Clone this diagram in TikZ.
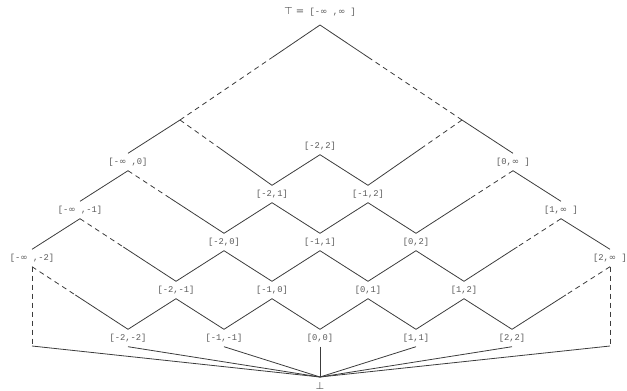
\documentclass[tikz,border=0pt]{standalone}
\usepackage{fontspec}
\setmonofont{Liberation Mono}
\newfontfamily\symfont{DejaVu Sans}
\usetikzlibrary{calc}
\definecolor{lc}{RGB}{60,60,60}
\definecolor{tc}{RGB}{90,90,90}
\newcommand\infy{{\symfont ∞}}
\newcommand\dshline[3]{\draw[dl] (#1) -- ($(#1)!#3!(#2)$); \draw[sl] ($(#1)!#3!(#2)$) -- (#2);}
\begin{document}
\begin{tikzpicture}[x=1pt,y=-1pt,
  lv/.style={inner sep=0pt, minimum height=17pt, text=tc, font=\ttfamily\fontsize{8.8}{10}\selectfont},
  sl/.style={draw=lc, line width=0.8pt},
  dl/.style={sl, dash pattern=on 5pt off 4pt}]
\useasboundingbox (0,0) rectangle (627,391);
% top and bottom
\node[coordinate] (top) at (320,25) {};
\node[lv, text=tc] (toplbl) at (320,12) {{\symfont\fontsize{10}{12}\selectfont ⊤ =} [-\infy{} ,\infy{} ]};
\node[coordinate] (bot) at (320,377) {};
\node[text=tc, inner sep=0pt, font=\symfont\fontsize{10}{12}\selectfont] (botlbl) at (320,386) {⊥};
% level 0
\node[lv] (naa) at (128,338) {[-2,-2]};
\node[lv] (nbb) at (224,338) {[-1,-1]};
\node[lv] (ncc) at (320,338) {[0,0]};
\node[lv] (ndd) at (416,338) {[1,1]};
\node[lv] (nee) at (512,338) {[2,2]};
% level 1
\node[lv] (nab) at (176,290) {[-2,-1]};
\node[lv] (nbc) at (272,290) {[-1,0]};
\node[lv] (ncd) at (368,290) {[0,1]};
\node[lv] (nde) at (464,290) {[1,2]};
% level 2
\node[lv] (nac) at (224,242) {[-2,0]};
\node[lv] (nbd) at (320,242) {[-1,1]};
\node[lv] (nce) at (416,242) {[0,2]};
% level 3
\node[lv] (nad) at (272,194) {[-2,1]};
\node[lv] (nbe) at (368,194) {[-1,2]};
% level 4
\node[lv] (nae) at (320,146) {[-2,2]};
% infinite chains
\node[lv] (lia) at (32,258) {[-\infy{} ,-2]};
\node[lv] (lib) at (80,210) {[-\infy{} ,-1]};
\node[lv] (lic) at (128,162) {[-\infy{} ,0]};
\node[lv] (ric) at (513,162) {[0,\infy{} ]};
\node[lv] (rid) at (561,210) {[1,\infy{} ]};
\node[lv] (rie) at (610,258) {[2,\infy{} ]};
\node[coordinate] (jl) at (180,120) {};
\node[coordinate] (jr) at (462,120) {};
\node[coordinate] (cl) at (32,346) {};
\node[coordinate] (cr) at (610,346) {};
% grid edges
\draw[sl] (naa.north) -- (nab.south);
\draw[sl] (nbb.north) -- (nab.south);
\draw[sl] (nbb.north) -- (nbc.south);
\draw[sl] (ncc.north) -- (nbc.south);
\draw[sl] (ncc.north) -- (ncd.south);
\draw[sl] (ndd.north) -- (ncd.south);
\draw[sl] (ndd.north) -- (nde.south);
\draw[sl] (nee.north) -- (nde.south);
\draw[sl] (nab.north) -- (nac.south);
\draw[sl] (nbc.north) -- (nac.south);
\draw[sl] (nbc.north) -- (nbd.south);
\draw[sl] (ncd.north) -- (nbd.south);
\draw[sl] (ncd.north) -- (nce.south);
\draw[sl] (nde.north) -- (nce.south);
\draw[sl] (nac.north) -- (nad.south);
\draw[sl] (nbd.north) -- (nad.south);
\draw[sl] (nbd.north) -- (nbe.south);
\draw[sl] (nce.north) -- (nbe.south);
\draw[sl] (nad.north) -- (nae.south);
\draw[sl] (nbe.north) -- (nae.south);
% chains
\draw[sl] (lia.north) -- (lib.south);
\draw[sl] (lib.north) -- (lic.south);
\draw[sl] (lic.north) -- (jl);
\draw[sl] (rie.north) -- (rid.south);
\draw[sl] (rid.north) -- (ric.south);
\draw[sl] (ric.north) -- (jr);
\dshline{jl}{top}{0.66}
\dshline{jr}{top}{0.66}
\dshline{jl}{nad.north}{0.43}
\dshline{jr}{nbe.north}{0.43}
\dshline{lic.south}{nac.north}{0.44}
\dshline{ric.south}{nce.north}{0.44}
\dshline{lib.south}{nab.north}{0.45}
\dshline{rid.south}{nde.north}{0.45}
\dshline{lia.south}{naa.north}{0.45}
\dshline{rie.south}{nee.north}{0.45}
% sides
\draw[dl] (lia.south) -- (cl);
\draw[dl] (rie.south) -- (cr);
\draw[sl] (cl) -- (bot);
\draw[sl] (cr) -- (bot);
% bottom fan
\draw[sl] (naa.south) -- (bot);
\draw[sl] (nbb.south) -- (bot);
\draw[sl] (ncc.south) -- (bot);
\draw[sl] (ndd.south) -- (bot);
\draw[sl] (nee.south) -- (bot);
\end{tikzpicture}
\end{document}
